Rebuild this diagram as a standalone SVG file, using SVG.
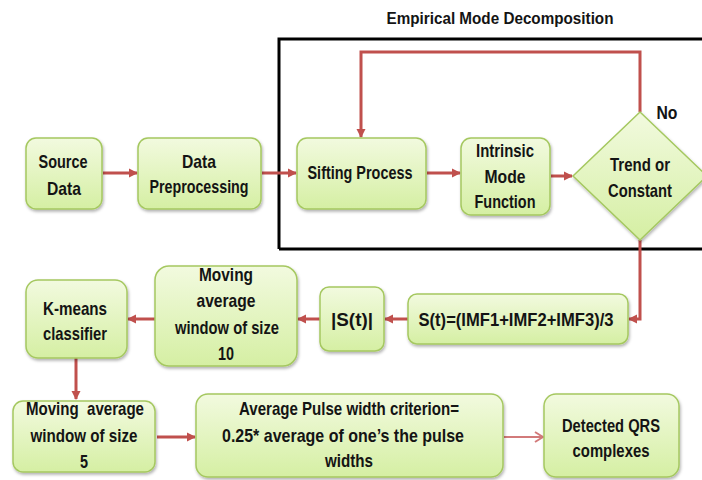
<svg xmlns="http://www.w3.org/2000/svg" width="702" height="480" viewBox="0 0 702 480">
<defs>
<linearGradient id="g" x1="0" y1="0" x2="0" y2="1">
<stop offset="0" stop-color="#f2fadf"/>
<stop offset="1" stop-color="#d5efa3"/>
</linearGradient>
<filter id="sh" x="-10%" y="-10%" width="125%" height="130%">
<feDropShadow dx="1" dy="2" stdDeviation="1.5" flood-color="#000" flood-opacity="0.3"/>
</filter>
<marker id="ah" markerWidth="10" markerHeight="10" refX="8" refY="5" orient="auto" markerUnits="userSpaceOnUse">
<path d="M0,0.5 L9,5 L0,9.5 Z" fill="#c0504d"/>
</marker>
<marker id="ah2" markerWidth="10" markerHeight="12" refX="9" refY="6" orient="auto" markerUnits="userSpaceOnUse">
<path d="M1,1 L9,6 L1,11" fill="none" stroke="#d27a7a" stroke-width="2"/>
</marker>
<style>
.n{fill:url(#g);stroke:#a5c860;stroke-width:1.5;filter:url(#sh)}
.t{font-family:"Liberation Sans",Arial,sans-serif;font-weight:bold;font-size:18.5px;fill:#141414;text-anchor:middle}
.c{fill:none;stroke:#c0504d;stroke-width:3;marker-end:url(#ah)}
</style>
</defs>
<rect width="702" height="480" fill="#fff"/>
<g id="emd">
<path d="M279,249 L279,39 L702,39" fill="none" stroke="#000" stroke-width="3"/>
<path d="M279,249 L702,249" fill="none" stroke="#000" stroke-width="3"/>
<text class="t" x="500" y="24" style="font-size:16.5px" textLength="227" lengthAdjust="spacingAndGlyphs">Empirical Mode Decomposition</text>
</g>
<g id="connectors">
<path class="c" d="M103,173 L137,173"/>
<path class="c" d="M262,173 L296,173"/>
<path class="c" d="M427,173 L460,173"/>
<path class="c" d="M551,176 L572,176"/>
<path class="c" d="M640,112 L640,52 L361,52 L361,137"/>
<path class="c" d="M640,240 L640,319 L629,319"/>
<path class="c" d="M408,319 L385,319"/>
<path class="c" d="M320,319 L298,319"/>
<path class="c" d="M155,319 L128,319"/>
<path class="c" d="M76,358 L76,399"/>
<path class="c" d="M157,437 L195,437"/>
<path d="M504,437 L543,437" fill="none" stroke="#d27a7a" stroke-width="2.2" marker-end="url(#ah2)"/>
<text class="t" x="667" y="119" textLength="21" lengthAdjust="spacingAndGlyphs">No</text>
</g>
<g id="source"><rect class="n" x="26" y="138" width="76" height="71" rx="10"/><text class="t" x="63" y="168" textLength="49" lengthAdjust="spacingAndGlyphs">Source</text><text class="t" x="64" y="195" textLength="34" lengthAdjust="spacingAndGlyphs">Data</text></g>
<g id="preproc"><rect class="n" x="138" y="138" width="123" height="71" rx="10"/><text class="t" x="199" y="168" textLength="34" lengthAdjust="spacingAndGlyphs">Data</text><text class="t" x="199" y="193" textLength="99" lengthAdjust="spacingAndGlyphs">Preprocessing</text></g>
<g id="sifting"><rect class="n" x="297" y="138" width="129" height="71" rx="10"/><text class="t" x="360" y="179" textLength="105" lengthAdjust="spacingAndGlyphs">Sifting Process</text></g>
<g id="imf"><rect class="n" x="461" y="138" width="89" height="77" rx="10"/><text class="t" x="505" y="157" textLength="58" lengthAdjust="spacingAndGlyphs">Intrinsic</text><text class="t" x="505" y="183" textLength="41" lengthAdjust="spacingAndGlyphs">Mode</text><text class="t" x="505" y="208" textLength="61" lengthAdjust="spacingAndGlyphs">Function</text></g>
<g id="trend"><path class="n" d="M640,112 L707,176 L640,240 L573,176 Z"/><text class="t" x="640" y="171" textLength="60" lengthAdjust="spacingAndGlyphs">Trend or</text><text class="t" x="640" y="197" textLength="64" lengthAdjust="spacingAndGlyphs">Constant</text></g>
<g id="st"><rect class="n" x="408" y="294" width="220" height="50" rx="9"/><text class="t" x="516" y="326" textLength="195" lengthAdjust="spacingAndGlyphs">S(t)=(IMF1+IMF2+IMF3)/3</text></g>
<g id="abs"><rect class="n" x="320" y="287" width="64" height="64" rx="9"/><text class="t" x="352" y="326" textLength="42" lengthAdjust="spacingAndGlyphs">|S(t)|</text></g>
<g id="ma10"><rect class="n" x="155" y="266" width="142" height="100" rx="14"/><text class="t" x="226" y="281" textLength="54" lengthAdjust="spacingAndGlyphs">Moving</text><text class="t" x="226" y="307" textLength="59" lengthAdjust="spacingAndGlyphs">average</text><text class="t" x="227" y="334" textLength="104" lengthAdjust="spacingAndGlyphs">window of size</text><text class="t" x="226" y="360" textLength="16" lengthAdjust="spacingAndGlyphs">10</text></g>
<g id="kmeans"><rect class="n" x="26" y="280" width="101" height="78" rx="12"/><text class="t" x="75" y="315" textLength="64" lengthAdjust="spacingAndGlyphs">K-means</text><text class="t" x="75" y="340" textLength="64" lengthAdjust="spacingAndGlyphs">classifier</text></g>
<g id="ma5"><rect class="n" x="13" y="401" width="142" height="71" rx="10"/><text class="t" x="85" y="415" textLength="118" lengthAdjust="spacingAndGlyphs">Moving&#160; average</text><text class="t" x="84" y="442" textLength="107" lengthAdjust="spacingAndGlyphs">window of size</text><text class="t" x="84" y="468" textLength="8" lengthAdjust="spacingAndGlyphs">5</text></g>
<g id="apw"><rect class="n" x="196" y="394" width="307" height="83" rx="12"/><text class="t" x="349" y="415" textLength="220" lengthAdjust="spacingAndGlyphs">Average Pulse width criterion=</text><text class="t" x="343" y="442" textLength="242" lengthAdjust="spacingAndGlyphs">0.25* average of one’s the pulse</text><text class="t" x="349" y="467" textLength="48" lengthAdjust="spacingAndGlyphs">widths</text></g>
<g id="qrs"><rect class="n" x="544" y="394" width="135" height="83" rx="12"/><text class="t" x="611" y="432" textLength="98" lengthAdjust="spacingAndGlyphs">Detected QRS</text><text class="t" x="611" y="457" textLength="77" lengthAdjust="spacingAndGlyphs">complexes</text></g>
</svg>
